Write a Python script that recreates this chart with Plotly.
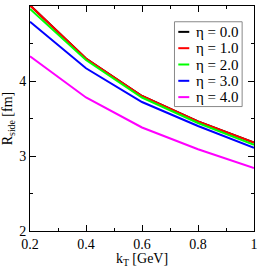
import plotly.graph_objects as go

kT = [0.2, 0.4, 0.6, 0.8, 1.0]
eta_labels = ["η = 0.0", "η = 1.0", "η = 2.0", "η = 3.0", "η = 4.0"]
colors = ["#000000", "#ff0000", "#00ff00", "#0000ff", "#ff00ff"]
r_eta0 = [5.01, 4.30, 3.80, 3.46, 3.18]
r_eta1 = [5.01, 4.30, 3.80, 3.46, 3.18]
r_eta2 = [4.96, 4.28, 3.78, 3.44, 3.15]
r_eta3 = [4.79, 4.17, 3.72, 3.40, 3.11]
r_eta4 = [4.33, 3.78, 3.38, 3.09, 2.84]
series = [r_eta0, r_eta1, r_eta2, r_eta3, r_eta4]

serif = "Liberation Serif"
font = dict(family=serif, size=14, color="black")

fig = go.Figure()
for lab, col, ys in zip(eta_labels, colors, series):
    fig.add_trace(go.Scatter(x=kT, y=ys, mode="lines", name=lab, showlegend=False,
                             line=dict(color=col, width=2)))

# Legend box drawn in paper coordinates (xmgrace style)
fig.add_shape(type="rect", xref="paper", yref="paper", x0=0.645, x1=0.947,
              y0=0.553, y1=0.930, line=dict(color="#888888", width=1),
              fillcolor="white", layer="above")
y_top, y_step = 0.885, 0.0725
for i, (lab, col) in enumerate(zip(eta_labels, colors)):
    yy = y_top - i * y_step
    fig.add_shape(type="line", xref="paper", yref="paper", x0=0.662, x1=0.711,
                  y0=yy, y1=yy, line=dict(color=col, width=2), layer="above")
    fig.add_annotation(xref="paper", yref="paper", x=0.733, y=yy, text=lab,
                       showarrow=False, xanchor="left", yanchor="middle",
                       font=dict(family=serif, size=15, color="black"))

axis_common = dict(showgrid=False, zeroline=False, showline=True, linecolor="black",
                   linewidth=1, mirror="ticks", ticks="inside", ticklen=6,
                   tickcolor="black", tickfont=font)
fig.update_layout(
    width=262, height=268,
    margin=dict(l=30, r=4, t=6, b=34),
    paper_bgcolor="white", plot_bgcolor="white",
    font=font,
    showlegend=False,
    xaxis=dict(range=[0.2, 1.0], tickvals=[0.2, 0.4, 0.6, 0.8, 1.0],
               ticktext=["0.2", "0.4", "0.6", "0.8", "1"],
               minor=dict(ticks="inside", ticklen=3, dtick=0.1, tick0=0.2, tickcolor="black"),
               title=dict(text="k<sub>T</sub> [GeV]", font=font, standoff=2),
               **axis_common),
    yaxis=dict(range=[2, 5], tickvals=[2, 3, 4, 5],
               minor=dict(ticks="inside", ticklen=3, dtick=0.5, tick0=2, tickcolor="black"),
               title=dict(text="R<sub>side</sub> [fm]", font=font, standoff=4),
               **axis_common),
)
fig.write_html("out.html", config={"displayModeBar": False},
               post_script="document.body.style.margin='0';")
